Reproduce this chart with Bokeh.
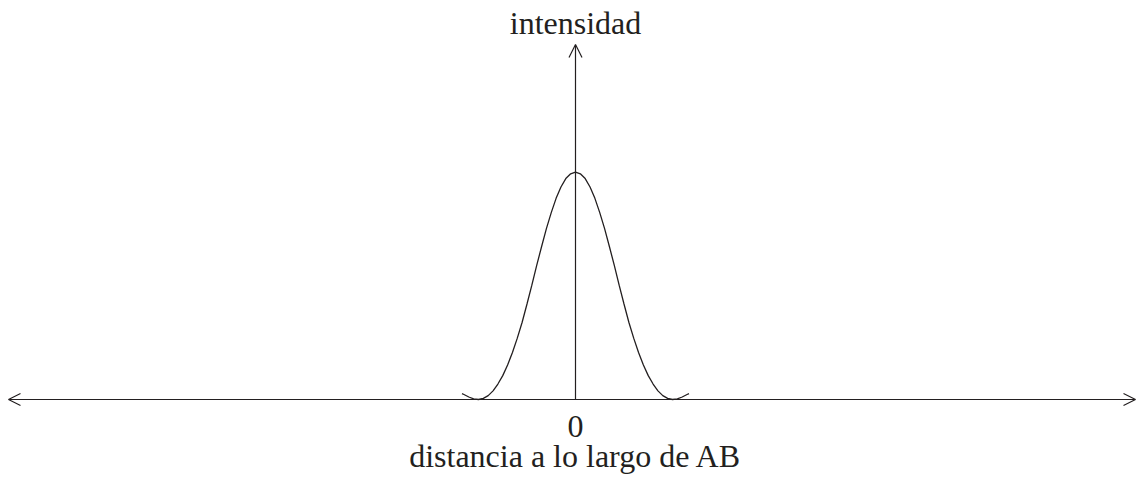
from bokeh.plotting import figure
from bokeh.models import Arrow, OpenHead, Range1d, ColumnDataSource
from bokeh.core.properties import value
from bokeh.embed import file_html
from bokeh.resources import INLINE

# distance along AB (units: first minimum at +/-1), right half of symmetric profile
distance_half = [0.00, 0.05, 0.10, 0.15, 0.20, 0.25, 0.30, 0.35, 0.40, 0.45,
                 0.50, 0.55, 0.60, 0.65, 0.70, 0.75, 0.80, 0.85, 0.90, 0.95,
                 1.00, 1.05, 1.10, 1.15, 1.17]
intensity_half = [1.000, 0.993, 0.972, 0.935, 0.885, 0.822, 0.752, 0.672, 0.590, 0.503,
                  0.420, 0.340, 0.270, 0.207, 0.152, 0.105, 0.068, 0.038, 0.017, 0.005,
                  0.000, 0.003, 0.011, 0.022, 0.026]

y_label = "intensidad"
x_label = "distancia a lo largo de AB"
origin_label = "0"

INK = "#231f20"
FONT = "Liberation Serif"

# mirror the symmetric profile
xs = [-d for d in reversed(distance_half[1:])] + distance_half
ys = list(reversed(intensity_half[1:])) + intensity_half

W, H = 1144, 477
px_x = 97.0     # pixels per distance unit
px_y = 227.3    # pixels per intensity unit
cx, base = 575, 399  # origin in figure pixel coordinates

x_range = Range1d(-cx / px_x, (W - cx) / px_x)
y_range = Range1d(-(H - base) / px_y, base / px_y)

p = figure(width=W, height=H, x_range=x_range, y_range=y_range,
           output_backend="svg", toolbar_location=None,
           x_axis_type=None, y_axis_type=None, min_border=0)
p.grid.visible = False
p.outline_line_color = None
p.background_fill_color = "white"
p.border_fill_color = "white"

# horizontal double arrow (distance axis)
p.add_layout(Arrow(start=OpenHead(size=12, line_color=INK, line_width=1.2),
                   end=OpenHead(size=12, line_color=INK, line_width=1.2),
                   x_start=x_range.start + 8 / px_x, y_start=0,
                   x_end=x_range.end - 9 / px_x, y_end=0,
                   line_color=INK, line_width=1.2))
# vertical arrow (intensity axis)
p.add_layout(Arrow(end=OpenHead(size=13, line_color=INK, line_width=1.2),
                   x_start=0, y_start=0, x_end=0, y_end=(base - 44) / px_y,
                   line_color=INK, line_width=1.2))

p.line(xs, ys, line_color=INK, line_width=1.3)

src = ColumnDataSource(dict(
    x=[0, 0, 0],
    y=[(base - 22) / px_y, -(426 - base) / px_y, -(455 - base) / px_y],
    t=[y_label, origin_label, x_label],
))
p.text(x="x", y="y", text="t", source=src, text_align="center",
       text_baseline="alphabetic", text_font=value(FONT),
       text_font_size="32px", text_color=INK)

open("out.html", "w").write(file_html(p, INLINE))
